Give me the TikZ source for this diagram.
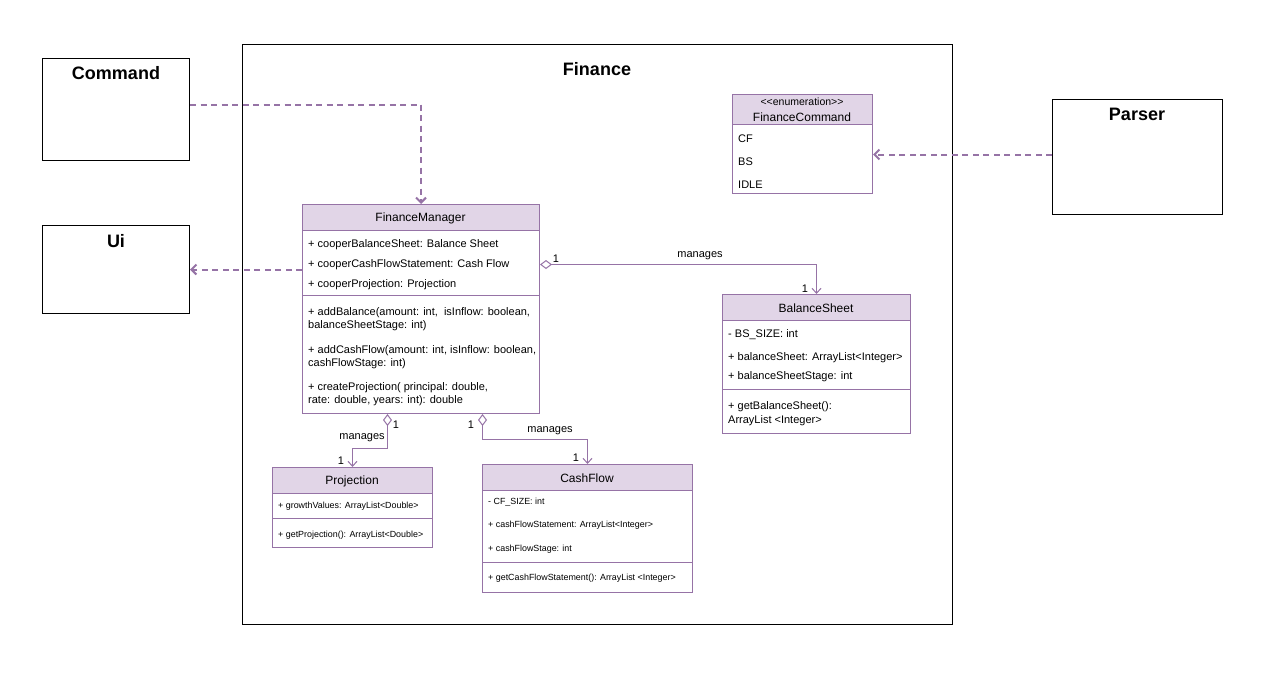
\documentclass[tikz,border=0pt]{standalone}
\usepackage{fontspec}
\setmainfont{Liberation Sans}
\usetikzlibrary{arrows.meta}
\definecolor{pborder}{HTML}{9673A6}
\definecolor{pfill}{HTML}{E1D5E7}
\begin{document}
\begin{tikzpicture}[x=1pt,y=-1pt,
  box/.style={draw=black, line width=1pt, fill=white, inner sep=0pt, anchor=north west},
  cls/.style={draw=pborder, line width=1pt, fill=white, inner sep=0pt, anchor=north west},
  hdr/.style={draw=pborder, line width=1pt, fill=pfill},
  sep/.style={draw=pborder, line width=1pt},
  txt/.style={anchor=west, inner sep=0pt, yshift=-1.5pt, font=\fontsize{11}{12}\selectfont},
  sml/.style={anchor=west, inner sep=0pt, yshift=-1pt, font=\fontsize{8.9}{10}\selectfont},
  ttl/.style={inner sep=0pt, yshift=-1pt, font=\fontsize{12}{14}\selectfont},
  big/.style={inner sep=0pt, font=\bfseries\fontsize{18}{20}\selectfont},
  lbl/.style={inner sep=0pt, yshift=-2pt, font=\fontsize{11}{12}\selectfont},
  dep/.style={draw=pborder, line width=2pt, dash pattern=on 6pt off 4.5pt, -{Straight Barb[length=5pt,width=10pt]}},
  agg/.style={draw=pborder, line width=1pt, {Diamond[length=12pt,width=9pt,fill=white]}-{Straight Barb[length=5pt,width=9pt]}}
]
\useasboundingbox (0,0) rectangle (1264,675);
\fill[white] (0,0) rectangle (1264,675);

% Finance package
\node[box, minimum width=710, minimum height=580] (fin) at (242,44) {};
\node[big] (fint) at (597,69) {Finance};

% outside boxes
\node[box, minimum width=147, minimum height=102] (cmd) at (42,58) {};
\node[big] (cmdt) at (116,73) {Command};
\node[box, minimum width=147, minimum height=88] (ui) at (42,225) {};
\node[big] (uit) at (116,241) {Ui};
\node[box, minimum width=170, minimum height=115] (par) at (1052,99) {};
\node[big] (part) at (1137,114) {Parser};

% FinanceCommand
\node[cls, minimum width=140, minimum height=99] (fc) at (732,94) {};
\draw[hdr] (732,94) rectangle (872,124);
\node[inner sep=0pt, font=\fontsize{10.5}{12}\selectfont] (fcs) at (802,102) {{<}{<}enumeration{>}{>}};
\node[ttl] (fct) at (802,116.5) {FinanceCommand};
\node[txt] (fc1) at (738,137) {CF};
\node[txt] (fc2) at (738,160) {BS};
\node[txt] (fc3) at (738,183) {IDLE};

% FinanceManager
\node[cls, minimum width=237, minimum height=209] (fm) at (302,204) {};
\draw[hdr] (302,204) rectangle (539,230);
\node[ttl] (fmt) at (420.5,217) {FinanceManager};
\node[txt] (fm1) at (308,243) {+ cooperBalanceSheet: Balance Sheet};
\node[txt] (fm2) at (308,263) {+ cooperCashFlowStatement: Cash Flow};
\node[txt] (fm3) at (308,283) {+ cooperProjection: Projection};
\draw[sep] (302,295) -- (539,295);
\node[txt] (fm4) at (308,311) {+ addBalance(amount: int,\ \ isInflow: boolean,};
\node[txt] (fm5) at (308,324) {balanceSheetStage: int)};
\node[txt] (fm6) at (308,349) {+ addCashFlow(amount: int, isInflow: boolean,};
\node[txt] (fm7) at (308,362) {cashFlowStage: int)};
\node[txt] (fm8) at (308,386) {+ createProjection( principal: double,};
\node[txt] (fm9) at (308,399) {rate: double, years: int): double};

% BalanceSheet
\node[cls, minimum width=188, minimum height=139] (bs) at (722,294) {};
\draw[hdr] (722,294) rectangle (910,320);
\node[ttl] (bst) at (816,307) {BalanceSheet};
\node[txt] (bs1) at (728,333) {- BS\_SIZE: int};
\node[txt] (bs2) at (728,356) {+ balanceSheet: ArrayList<Integer>};
\node[txt] (bs3) at (728,375) {+ balanceSheetStage: int};
\draw[sep] (722,389) -- (910,389);
\node[txt] (bs4) at (728,405) {+ getBalanceSheet():};
\node[txt] (bs5) at (728,419) {ArrayList <Integer>};

% Projection
\node[cls, minimum width=160, minimum height=80] (pj) at (272,467) {};
\draw[hdr] (272,467) rectangle (432,493);
\node[ttl] (pjt) at (352,480) {Projection};
\node[sml] (pj1) at (278,505) {+ growthValues: ArrayList<Double>};
\draw[sep] (272,518) -- (432,518);
\node[sml] (pj2) at (278,534) {+ getProjection(): ArrayList<Double>};

% CashFlow
\node[cls, minimum width=210, minimum height=128] (cf) at (482,464) {};
\draw[hdr] (482,464) rectangle (692,490);
\node[ttl] (cft) at (587,477) {CashFlow};
\node[sml] (cf1) at (488,501) {- CF\_SIZE: int};
\node[sml] (cf2) at (488,524) {+ cashFlowStatement: ArrayList<Integer>};
\node[sml] (cf3) at (488,548) {+ cashFlowStage: int};
\draw[sep] (482,562) -- (692,562);
\node[sml] (cf4) at (488,577) {+ getCashFlowStatement(): ArrayList <Integer>};

% dependencies
\draw[dep] ([yshift=5pt]cmd.east) -| (fm.north);
\draw[dep] (fm.west |- ui.east) -- (ui.east);
\coordinate (pst) at ([yshift=2.5pt]par.west);
\draw[dep] (pst) -- (fc.east |- pst);

% aggregations
\draw[agg] ([yshift=44.5pt]fm.east) -| (bs.north);
\node[lbl] (m1) at (700,254) {manages};
\node[lbl] (a1) at (556,257) {1};
\node[lbl] (b1) at (805,287) {1};

\draw[agg] ([xshift=-33.5pt]fm.south) -- ++(0,34) -| (pj.north);
\node[lbl] (m2) at (362,436) {manages};
\node[lbl] (a2) at (396,423) {1};
\node[lbl] (b2) at (341,459) {1};

\draw[agg] ([xshift=61.5pt]fm.south) -- ++(0,25) -| (cf.north);
\node[lbl] (m3) at (550,429) {manages};
\node[lbl] (a3) at (471,423) {1};
\node[lbl] (b3) at (576,456) {1};
\end{tikzpicture}
\end{document}
